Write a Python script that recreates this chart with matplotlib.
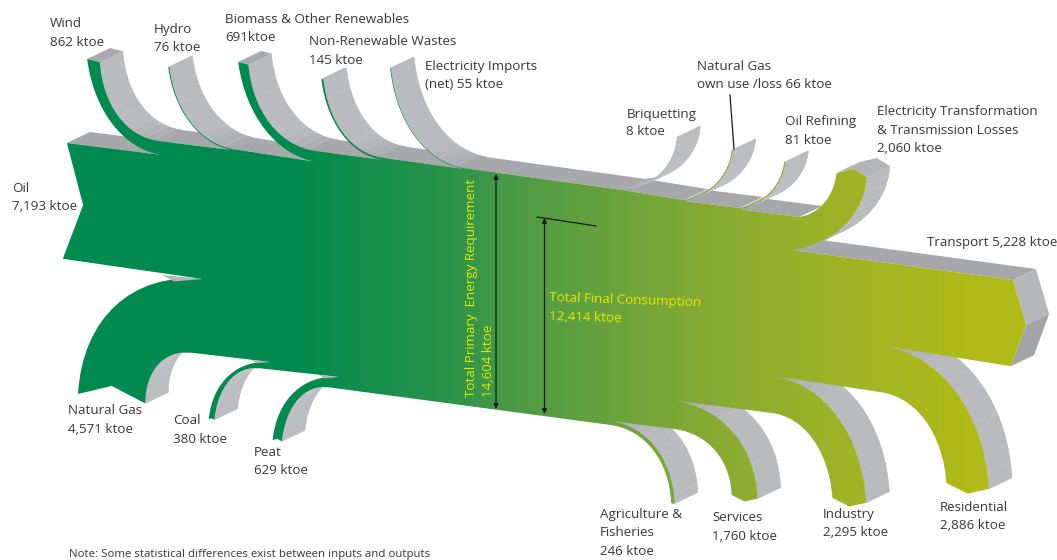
import numpy as np
import matplotlib
matplotlib.use("Agg")
import matplotlib.pyplot as plt
from matplotlib.path import Path
from matplotlib.patches import PathPatch, Polygon
from matplotlib.collections import PolyCollection, LineCollection
from matplotlib.colors import LinearSegmentedColormap

plt.rcParams['font.family'] = ['Open Sans', 'DejaVu Sans']

# ---------- data (ktoe) ----------
oil = 7193
transport = 5228
top_in_names = ["Wind", "Hydro", "Biomass", "Wastes", "Imports"]
top_in_values = [862, 76, 691, 145, 55]
top_out_names = ["Briquetting", "GasOwnUse", "OilRefining", "Electricity"]
top_out_values = [8, 66, 81, 2060]
bottom_out_names = ["Residential", "Industry", "Services", "Agriculture"]
bottom_out_values = [2886, 2295, 1760, 246]
bottom_in_names = ["Peat", "Coal", "NaturalGas"]
bottom_in_values = [629, 380, 4571]
total_primary = 14604
total_final = 12414

# ---------- layout (pixels): join point, bend corner, free end ----------
W_K, V_K = 0.0147, 0.0161
DEPTH = np.array([23.0, -11.0])
BODY_ORIGIN = (66, 143)
BODY_NOTCH = (82, 205)
BODY_LEFT_X = 62
TRANSPORT_TOP = (1009, 280)
TRANSPORT_TIP = (1022, 325)
TRANSPORT_BOTTOM_X = 1007

top_in_geom = {
    "Wind": ((160, 155), (97, 146), (86, 59)),
    "Hydro": ((228, 150), (175, 139), (166, 67)),
    "Biomass": ((313, 162), (247, 152), (235, 62)),
    "Wastes": ((378, 160), (326, 153), (317, 79)),
    "Imports": ((458, 169), (394, 158), (385, 68)),
}
top_out_geom = {
    "Briquetting": ((622, 190), (672, 186), (676, 137)),
    "GasOwnUse": ((683, 200), (726, 192), (730, 150)),
    "OilRefining": ((738, 208), (778, 201), (782, 162)),
    "Electricity": ((797, 217), (830, 212), (834, 173)),
}
bottom_out_geom = {
    "Residential": ((877, 392), (937, 400), (943, 483)),
    "Industry": ((770, 413), (824, 420), (830, 498)),
    "Services": ((673, 429), (728, 436), (730, 495)),
    "Agriculture": ((610, 425), (667, 433), (670, 503)),
}
bottom_in_geom = {
    "Peat": ((335, 377), (276, 372), (269, 440)),
    "Coal": ((267, 362), (212, 358), (206, 419)),
    "NaturalGas": ((200, 279), (84, 268), (77, 394)),
}


def fx(x):
    return x * 1.0135 if x < 530 else 530 + (x - 530) * 1.0083


def mp(p):
    return np.array([fx(p[0]), p[1]], float)


def bez(p0, c, p3, k=0.6):
    p1 = p0 + k * (c - p0)
    p2 = p3 + k * (c - p3)
    return p0, p1, p2, p3


def sample(b, n=60):
    t = np.linspace(0, 1, n)[:, None]
    return (1 - t) ** 3 * b[0] + 3 * (1 - t) ** 2 * t * b[1] + 3 * (1 - t) * t ** 2 * b[2] + t ** 3 * b[3]


fig = plt.figure(figsize=(10.57, 5.6), dpi=100)
ax = fig.add_axes([0, 0, 1, 1])
ax.set_xlim(0, 1057)
ax.set_ylim(560, 0)
ax.axis('off')


def band(curve, every=7, zorder=2):
    a, b = curve[:-1], curve[1:]
    quads = np.stack([a, b, b + DEPTH, a + DEPTH], axis=1)
    tang = b - a
    steep = np.abs(tang[:, 1]) / (np.hypot(tang[:, 0], tang[:, 1]) + 1e-9)
    light, dark = np.array([0xb9, 0xba, 0xbe]) / 255, np.array([0xa6, 0xa7, 0xaa]) / 255
    s = np.clip((steep - 0.15) / 0.5, 0, 1)[:, None]
    cols = dark + (light - dark) * s
    ax.add_collection(PolyCollection(quads, facecolors=cols, edgecolors=cols, linewidths=0.4, zorder=zorder))
    segs = [[p, p + DEPTH] for p in curve[::every]]
    ax.add_collection(LineCollection(segs, colors='#d4d5d8', linewidths=0.4, alpha=0.55, zorder=zorder + 0.1))


def surface(a, b):
    ax.add_patch(Polygon([a, a + DEPTH, b + DEPTH, b], closed=True, fc='#a7a8ab', ec='none', zorder=1))


verts, codes = [], []


def move(p):
    verts.append(p); codes.append(Path.MOVETO)


def line(p):
    verts.append(p); codes.append(Path.LINETO)


def curve(b):
    line(b[0])
    verts.extend(b[1:]); codes.extend([Path.CURVE4] * 3)


# ---- body outline, clockwise ----
tl = mp(BODY_ORIGIN)
move(tl)
cursor = tl

for name, v in zip(top_in_names, top_in_values):
    p0, c, e = map(mp, top_in_geom[name])
    w = v * W_K
    ei = e + np.array([w, 0.25 * w])
    pi = p0 + np.array([-0.25 * w, -v * V_K])
    ci = c + np.array([0.5 * w, -0.95 * w])
    outer = bez(p0, c, e)
    inner = bez(ei, ci, pi)
    curve(outer)
    curve(inner)
    band(sample(inner), every=5 if v > 500 else 9)
    ax.add_patch(Polygon([e, e + DEPTH, ei + DEPTH, ei], closed=True, fc='#a9aaad', ec='none', zorder=2.2))
    surface(cursor, p0)
    cursor = pi

for name, v in zip(top_out_names, top_out_values):
    p0, c, e = map(mp, top_out_geom[name])
    w = v * W_K
    eo = e + np.array([w, 0.13 * w])
    tip = e + np.array([0.57 * w, -0.13 * w])
    po = p0 + np.array([-0.22 * w, v * V_K])
    co = c + np.array([w, 0.9 * w])
    inner = bez(p0, c, e)
    outer = bez(eo, co, po)
    curve(inner)
    line(tip)
    curve(outer)
    band(sample(outer), every=3 if v < 500 else 5)
    ax.add_patch(Polygon([e, e + DEPTH, tip + DEPTH, eo + DEPTH, eo, tip], closed=True,
                         fc='#b3b4b8', ec='none', zorder=2.2))
    surface(cursor, p0)
    cursor = po

# transport head
t_top = mp(TRANSPORT_TOP)
surface(cursor, t_top)
t_tip = mp(TRANSPORT_TIP)
t_bot = np.array([fx(TRANSPORT_BOTTOM_X), TRANSPORT_TOP[1] + transport * V_K + 2])
line(t_top)
line(t_tip)
line(t_bot)
ax.add_patch(Polygon([t_top, t_top + DEPTH, t_tip + DEPTH, t_tip], closed=True, fc='#b6b7bb', ec='none', zorder=2))
ax.add_patch(Polygon([t_tip, t_tip + DEPTH, t_bot + DEPTH, t_bot], closed=True, fc='#a3a4a7', ec='none', zorder=2))

for name, v in zip(bottom_out_names, bottom_out_values):
    p0, c, e = map(mp, bottom_out_geom[name])
    w = v * W_K
    ei = e + np.array([w, 0.14 * w])
    tip = e + np.array([0.5 * w, 0.25 * w])
    pi = p0 + np.array([0.05 * w, -v * V_K])
    ci = c + np.array([0.97 * w, -0.9 * w])
    inner = bez(pi, ci, ei)
    outer = bez(e, c, p0)
    curve(inner)
    line(tip)
    curve(outer)
    band(sample(inner), every=5)

for name, v in zip(bottom_in_names, bottom_in_values):
    p0, c, e = map(mp, bottom_in_geom[name])
    w = v * W_K
    ei = e + np.array([w, 0.14 * w])
    notch = e + np.array([0.5 * w, -0.12 * w])
    pi = p0 + np.array([-12.0, v * V_K])
    ci = c + np.array([0.9 * w, 1.2 * w])
    inner = bez(pi, ci, ei)
    outer = bez(e, c, p0)
    curve(inner)
    line(notch)
    curve(outer)
    band(sample(inner), every=2)
    # thin sliver of underside just above the strip
    ln = 18 + 0.005 * v
    ax.add_patch(Polygon([p0, p0 + np.array([-ln, -ln * 0.1]), p0 + np.array([-ln * 0.7, ln * 0.06])], closed=True,
                         fc='#b4b5b8', ec='none', zorder=4))

bl = np.array([fx(BODY_LEFT_X), BODY_ORIGIN[1] + oil * V_K])
line(bl)
line(mp(BODY_NOTCH))
line(tl)
verts.append(tl); codes.append(Path.CLOSEPOLY)

# ---- body fill: horizontal gradient clipped to the outline ----
stops_x = [0, 300, 450, 530, 700, 850, 970, 1057]
stops_c = ['#008a51', '#018a50', '#2b9449', '#519c44', '#84aa35', '#a0b426', '#b0ba18', '#b0ba18']
cmap = LinearSegmentedColormap.from_list('flow', [(x / 1057, col) for x, col in zip(stops_x, stops_c)])
grad = np.linspace(0, 1, 1057)[None, :]
patch = PathPatch(Path(np.array(verts), codes), fc='none', ec='none', transform=ax.transData)
ax.add_patch(patch)
im = ax.imshow(grad, extent=(0, 1057, 560, 0), cmap=cmap, aspect='auto', zorder=3, vmin=0, vmax=1)
im.set_clip_path(patch)
ax.set_xlim(0, 1057)
ax.set_ylim(560, 0)

# ---- labels ----
TXT = '#37373a'
FS = 9.65
labels = [
    (49.5, 27, "Wind"), (49.5, 46, "862 ktoe"),
    (154, 33, "Hydro"), (154, 51, "76 ktoe"),
    (225, 23, "Biomass & Other Renewables"), (225, 41, "691ktoe"),
    (309, 45, "Non-Renewable Wastes"), (309, 64, "145 ktoe"),
    (425, 70, "Electricity Imports"), (425, 88, "(net) 55 ktoe"),
    (12, 192, "Oil"), (12, 210, "7,193 ktoe"),
    (68.5, 414, "Natural Gas"), (68.5, 433, "4,571 ktoe"),
    (173, 424, "Coal"), (173, 443, "380 ktoe"),
    (254, 456, "Peat"), (254, 474, "629 ktoe"),
    (626.5, 118, "Briquetting"), (626.5, 135, "8 ktoe"),
    (697, 70, "Natural Gas"), (697, 88, "own use /loss 66 ktoe"),
    (785, 125, "Oil Refining"), (785, 144, "81 ktoe"),
    (877, 115, "Electricity Transformation"), (877, 134, "& Transmission Losses"), (877, 152, "2,060 ktoe"),
    (927, 246, "Transport 5,228 ktoe"),
    (600, 518, "Agriculture &"), (600, 536, "Fisheries"), (600, 555, "246 ktoe"),
    (712, 521, "Services"), (712, 540, "1,760 ktoe"),
    (823, 518, "Industry"), (823, 536, "2,295 ktoe"),
    (940, 511, "Residential"), (940, 529, "2,886 ktoe"),
]
for x, y, s in labels:
    ax.text(x, y, s, fontsize=FS, color=TXT, ha='left', va='baseline', zorder=6)
ax.text(69, 557.5, "Note: Some statistical differences exist between inputs and outputs",
        fontsize=8.25, color=TXT, ha='left', va='baseline', zorder=6)

YEL = '#e6e800'
ax.text(475, 397, "Total Primary  Energy Requirement", rotation=90, rotation_mode='anchor',
        fontsize=FS, color=YEL, ha='left', va='baseline', zorder=6)
ax.text(492, 397, f"{total_primary:,} ktoe", rotation=90, rotation_mode='anchor',
        fontsize=FS, color=YEL, ha='left', va='baseline', zorder=6)
ax.text(549, 301, "Total Final Consumption", rotation=-2, rotation_mode='anchor',
        fontsize=FS, color=YEL, ha='left', va='baseline', zorder=6)
ax.text(549, 320, f"{total_final:,} ktoe", rotation=-1.5, rotation_mode='anchor',
        fontsize=FS, color=YEL, ha='left', va='baseline', zorder=6)

# ---- annotation lines ----
ap = dict(arrowstyle='<|-|>', color='#1a1a1a', lw=0.9, mutation_scale=7, shrinkA=0, shrinkB=0)
ax.annotate('', xy=(496, 174), xytext=(496, 409), arrowprops=ap, zorder=7)
ax.annotate('', xy=(544.5, 218), xytext=(544.5, 414), arrowprops=ap, zorder=7)
ax.plot([537, 596], [217, 226], color='#1a1a1a', lw=0.9, zorder=7)
ax.plot([730, 734], [95, 149], color='#1a1a1a', lw=0.9, zorder=7)

fig.savefig('out.png', dpi=100)
